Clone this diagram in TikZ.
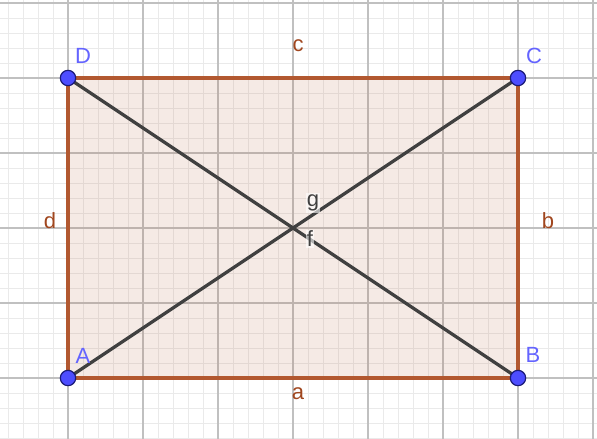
\documentclass[tikz,border=0pt]{standalone}
\usepackage{fontspec}
\setmainfont{Liberation Sans}
\definecolor{gridminor}{RGB}{234,234,234}
\definecolor{gridmajor}{RGB}{192,192,192}
\definecolor{edgebrown}{RGB}{178,88,48}
\definecolor{labbrown}{RGB}{160,70,30}
\definecolor{ptblue}{RGB}{77,77,255}
\definecolor{ptborder}{RGB}{26,26,120}
\definecolor{lablblue}{RGB}{100,100,255}
\definecolor{diag}{RGB}{64,64,64}
\tikzset{
  pt/.style={circle,fill=ptblue,draw=ptborder,line width=0.9pt,inner sep=0pt,minimum size=11.5pt},
  ptlab/.style={text=lablblue,font=\fontsize{16.5}{20}\selectfont,inner sep=0pt},
  seglab/.style={text=labbrown,font=\fontsize{16.5}{20}\selectfont,inner sep=0pt},
  diaglab/.style={text=diag,font=\fontsize{16.5}{20}\selectfont,inner sep=1pt,fill=white,fill opacity=0.6,text opacity=1},
  edge/.style={draw=edgebrown,line width=2.4pt},
  diagline/.style={draw=diag,line width=2.4pt}
}
\begin{document}
\begin{tikzpicture}[x=0.75pt,y=-0.75pt]
\useasboundingbox (0,0) rectangle (597,439);
\fill[white] (0,0) rectangle (597,439);
% minor grid
\foreach \x in {8,23,...,593} \draw[gridminor,line width=0.75pt] (\x,0) -- (\x,439);
\foreach \y in {3,18,...,438} \draw[gridminor,line width=0.75pt] (0,\y) -- (597,\y);
% major grid
\foreach \x in {68,143,...,593} \draw[gridmajor,line width=0.9pt] (\x,0) -- (\x,439);
\foreach \y in {3,78,...,378} \draw[gridmajor,line width=0.9pt] (0,\y) -- (597,\y);
% points
\coordinate (A) at (68,378);
\coordinate (B) at (518,378);
\coordinate (C) at (518,78);
\coordinate (D) at (68,78);
\fill[edgebrown,opacity=0.12] (A) -- (B) -- (C) -- (D) -- cycle;
\draw[edge] (A) -- (B);
\draw[edge] (B) -- (C);
\draw[edge] (C) -- (D);
\draw[edge] (D) -- (A);
\node[seglab] (la) at (298,394) {a};
\node[seglab] (lb) at (548,221) {b};
\node[seglab] (lc) at (298,46) {c};
\node[seglab] (ld) at (50,221) {d};
\draw[diagline] (A) -- (C);
\draw[diagline] (D) -- (B);
\node[diaglab] (g) at (313,203) {g};
\node[diaglab] (f) at (310,239) {f};
\node[pt] (pA) at (A) {};
\node[pt] (pB) at (B) {};
\node[pt] (pC) at (C) {};
\node[pt] (pD) at (D) {};
\node[ptlab] (lA) at (83,356) {A};
\node[ptlab] (lB) at (533,355) {B};
\node[ptlab] (lC) at (534,56) {C};
\node[ptlab] (lD) at (83,56) {D};
\end{tikzpicture}
\end{document}
